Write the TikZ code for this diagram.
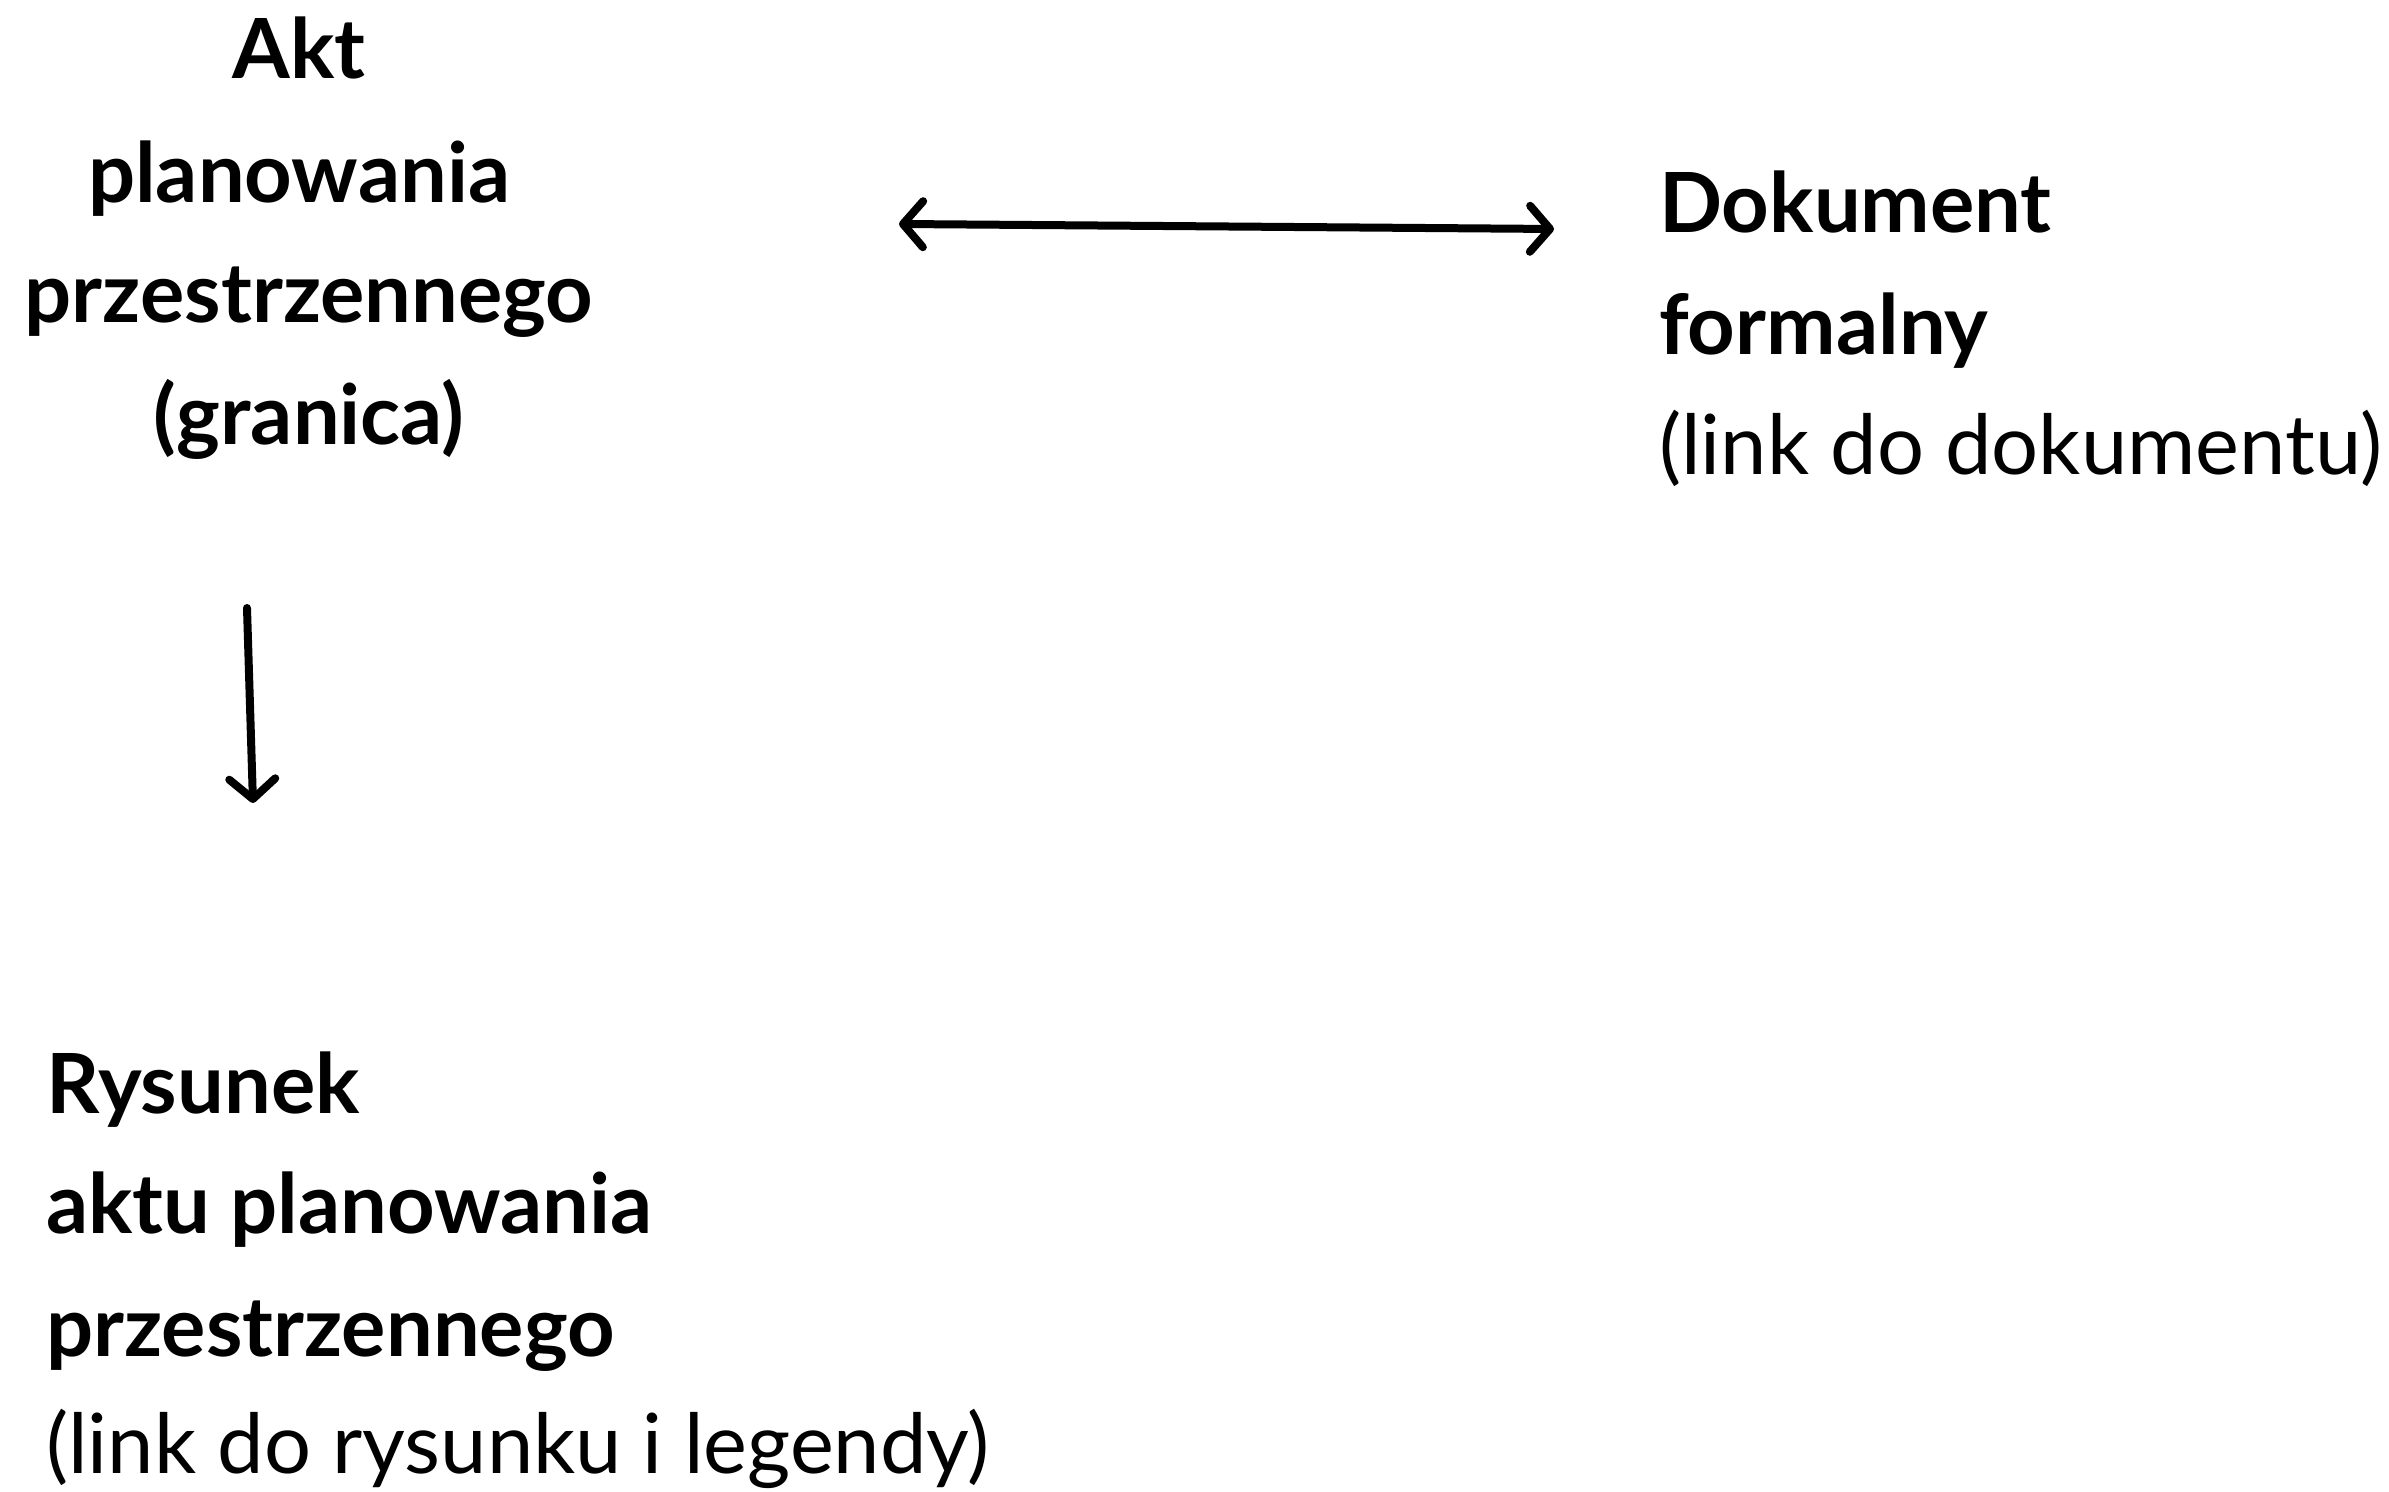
\documentclass[tikz,border=0pt]{standalone}
\usepackage{fontspec}
\setmainfont{Lato}
\usetikzlibrary{arrows.meta}
\begin{document}
\begin{tikzpicture}[x=1pt,y=1pt,
  lbl/.style={inner sep=0pt, font=\fontsize{83}{98}\selectfont\bfseries},
  lblr/.style={inner sep=0pt, font=\fontsize{83}{98}\selectfont},
  tipb/.tip={Straight Barb[length=20pt,width=46pt,line cap=round,line join=round]},
  conn/.style={line width=8pt, line cap=round, tipb-tipb},
  conn1/.style={line width=8pt, line cap=round, -tipb}]
\useasboundingbox (0,0) rectangle (2389,1491);
% top-left block
\node[lbl, anchor=base] (a1) at (299,1491-79) {Akt};
\node[lbl, anchor=base] (a2) at (299,1491-203) {planowania};
\node[lbl, anchor=base] (a3) at (309,1491-323) {przestrzennego};
\node[lbl, anchor=base] (a4) at (309,1491-445) {(granica)};
% right block
\node[lbl, anchor=base west] (d1) at (1659,1491-233) {Dokument};
\node[lbl, anchor=base west] (d2) at (1659,1491-355) {formalny};
\node[lblr, anchor=base west] (d3) at (1659,1491-475) {(link do dokumentu)};
% bottom block
\node[lbl, anchor=base west] (r1) at (46,1491-1114) {Rysunek};
\node[lbl, anchor=base west] (r2) at (46,1491-1234) {aktu planowania};
\node[lbl, anchor=base west] (r3) at (46,1491-1356) {przestrzennego};
\node[lblr, anchor=base west] (r4) at (46,1491-1473) {(link do rysunku i legendy)};
% arrows
\coordinate (h1) at (899,1491-224);
\coordinate (h2) at (1554,1491-229);
\coordinate (v1) at (247,1491-608);
\coordinate (v2) at (253,1491-803);
\draw[conn] (h1) -- (h2);
\draw[conn1] (v1) -- (v2);
\end{tikzpicture}
\end{document}
